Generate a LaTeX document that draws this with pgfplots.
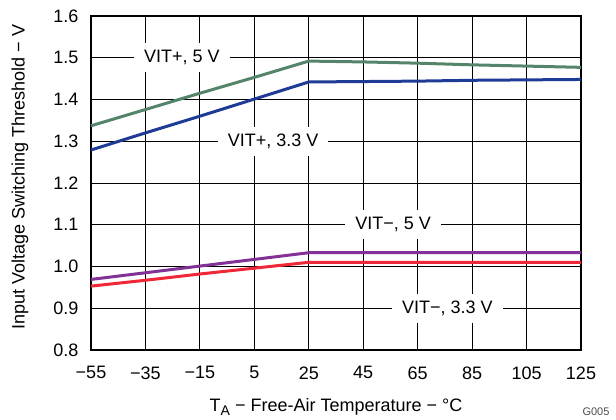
\documentclass[border=0pt]{standalone}
\usepackage{pgfplots}
\pgfplotsset{compat=1.18}
\usepackage{fontspec}
\setmainfont{Liberation Sans}
\definecolor{cgreen}{RGB}{84,132,106}
\definecolor{cblue}{RGB}{30,60,150}
\definecolor{cpurple}{RGB}{130,50,150}
\definecolor{cred}{RGB}{238,40,55}
\begin{document}
\begin{tikzpicture}
\begin{axis}[
  scale only axis, width=490bp, height=334bp,
  xmin=-55, xmax=125, ymin=0.8, ymax=1.6,
  xtick={-55,-35,-15,5,25,45,65,85,105,125},
  xticklabels={−55,−35,−15,5,25,45,65,85,105,125},
  ytick={0.8,0.9,1.0,1.1,1.2,1.3,1.4,1.5,1.6},
  yticklabels={0.8,0.9,1.0,1.1,1.2,1.3,1.4,1.5,1.6},
  grid=major, major grid style={black, line width=0.9bp},
  axis line style={line width=1.6bp, black},
  major tick length=0pt,
  ticklabel style={font=\fontsize{18bp}{21bp}\selectfont},
  yticklabel style={xshift=-9bp},
  xticklabel style={yshift=-13bp},
  label style={font=\fontsize{18bp}{21bp}\selectfont},
  xlabel={T\raisebox{-0.35ex}{\fontsize{14bp}{14bp}\selectfont A} − Free-Air Temperature − °C},
  ylabel={Input Voltage Switching Threshold − V},
  xlabel style={at={(axis description cs:0.5,-0.171)}, anchor=center},
  ylabel style={at={(axis description cs:-0.145,0.518)}, anchor=center},
  clip=false,
]
\addplot[cgreen, line width=3bp] coordinates {(-55,1.337) (-35,1.376) (-15,1.415) (5,1.453) (25,1.492) (45,1.490) (65,1.487) (85,1.483) (105,1.480) (125,1.477)};
\addplot[cblue, line width=3bp] coordinates {(-55,1.279) (-35,1.320) (-15,1.360) (5,1.401) (25,1.442) (45,1.443) (65,1.444) (85,1.446) (105,1.447) (125,1.448)};
\addplot[cpurple, line width=3bp] coordinates {(-55,0.969) (-35,0.985) (-15,1.001) (5,1.017) (25,1.033) (45,1.033) (65,1.033) (85,1.033) (105,1.033) (125,1.033)};
\addplot[cred, line width=3bp] coordinates {(-55,0.953) (-35,0.967) (-15,0.982) (5,0.996) (25,1.010) (45,1.010) (65,1.010) (85,1.010) (105,1.010) (125,1.010)};
\node[fill=white, inner xsep=10bp, inner ysep=7bp, font=\fontsize{18bp}{21bp}\selectfont] at (axis cs:-21.6,1.5) {VIT+, 5 V};
\node[fill=white, inner xsep=10bp, inner ysep=7bp, font=\fontsize{18bp}{21bp}\selectfont] at (axis cs:11.9,1.3) {VIT+, 3.3 V};
\node[fill=white, inner xsep=10bp, inner ysep=7bp, font=\fontsize{18bp}{21bp}\selectfont] at (axis cs:56,1.1) {VIT−, 5 V};
\node[fill=white, inner xsep=10bp, inner ysep=7bp, font=\fontsize{18bp}{21bp}\selectfont] at (axis cs:75.9,0.9) {VIT−, 3.3 V};
\end{axis}
\node[font=\fontsize{11bp}{12bp}\selectfont, text=black!70] at ([shift={(15bp,-62bp)}]current axis.south east) {G005};
\pgfresetboundingbox
\path[use as bounding box] ([shift={(-91bp,-70bp)}]current axis.south west) rectangle ([shift={(35bp,16bp)}]current axis.north east);
\end{tikzpicture}
\end{document}
